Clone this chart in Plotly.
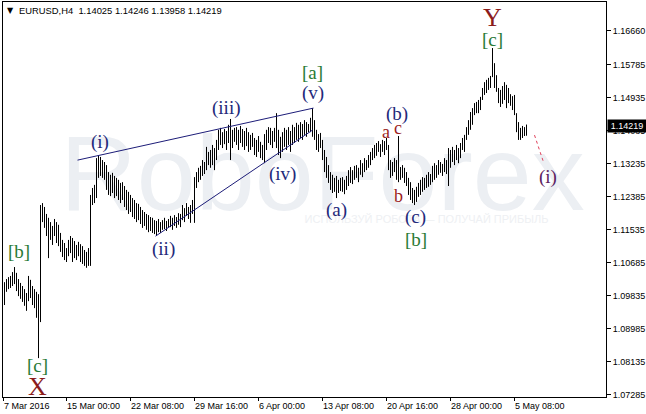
import plotly.graph_objects as go

# ---- data (EURUSD H4) ----
high = [1.1018, 1.1026, 1.1031, 1.1034, 1.1044, 1.1057, 1.1042, 1.1026, 1.1016, 1.1008,
        1.1000, 1.0990, 1.1034, 1.1024, 1.1008, 1.1000, 1.0993, 1.0987, 1.1217, 1.1222,
        1.1212, 1.1194, 1.1184, 1.1173, 1.1163, 1.1181, 1.1173, 1.1166, 1.1145, 1.1127,
        1.1119, 1.1106, 1.1127, 1.1137, 1.1132, 1.1124, 1.1114, 1.1122, 1.1116, 1.1111,
        1.1101, 1.1096, 1.1106, 1.1243, 1.1261, 1.1269, 1.1338, 1.1346, 1.1341, 1.1333,
        1.1328, 1.1320, 1.1302, 1.1295, 1.1300, 1.1292, 1.1287, 1.1282, 1.1274, 1.1276,
        1.1266, 1.1256, 1.1251, 1.1243, 1.1235, 1.1230, 1.1222, 1.1220, 1.1212, 1.1204,
        1.1199, 1.1194, 1.1191, 1.1186, 1.1184, 1.1178, 1.1176, 1.1181, 1.1173, 1.1178,
        1.1184, 1.1176, 1.1181, 1.1189, 1.1184, 1.1191, 1.1186, 1.1196, 1.1194, 1.1217,
        1.1209, 1.1222, 1.1212, 1.1217, 1.1230, 1.1289, 1.1302, 1.1313, 1.1318, 1.1333,
        1.1328, 1.1367, 1.1354, 1.1359, 1.1372, 1.1364, 1.1385, 1.1411, 1.1416, 1.1405,
        1.1413, 1.1408, 1.1424, 1.1439, 1.1411, 1.1416, 1.1418, 1.1411, 1.1421, 1.1413,
        1.1408, 1.1416, 1.1405, 1.1398, 1.1403, 1.1390, 1.1385, 1.1395, 1.1380, 1.1372,
        1.1400, 1.1411, 1.1418, 1.1416, 1.1408, 1.1416, 1.1454, 1.1411, 1.1393, 1.1405,
        1.1416, 1.1411, 1.1418, 1.1408, 1.1424, 1.1418, 1.1429, 1.1424, 1.1431, 1.1426,
        1.1436, 1.1431, 1.1426, 1.1442, 1.1467, 1.1436, 1.1411, 1.1400, 1.1403, 1.1385,
        1.1359, 1.1341, 1.1320, 1.1302, 1.1295, 1.1287, 1.1292, 1.1282, 1.1287, 1.1289,
        1.1282, 1.1292, 1.1307, 1.1315, 1.1307, 1.1318, 1.1320, 1.1313, 1.1333, 1.1325,
        1.1338, 1.1333, 1.1346, 1.1354, 1.1364, 1.1372, 1.1377, 1.1382, 1.1374, 1.1385,
        1.1382, 1.1390, 1.1372, 1.1333, 1.1328, 1.1338, 1.1333, 1.1395, 1.1315, 1.1320,
        1.1313, 1.1302, 1.1287, 1.1276, 1.1261, 1.1256, 1.1264, 1.1274, 1.1282, 1.1289,
        1.1287, 1.1295, 1.1302, 1.1297, 1.1318, 1.1325, 1.1320, 1.1333, 1.1328, 1.1323,
        1.1338, 1.1333, 1.1364, 1.1359, 1.1367, 1.1359, 1.1372, 1.1364, 1.1377, 1.1390,
        1.1398, 1.1418, 1.1436, 1.1457, 1.1467, 1.1480, 1.1483, 1.1488, 1.1496, 1.1519,
        1.1534, 1.1540, 1.1545, 1.1550, 1.1622, 1.1583, 1.1552, 1.1519, 1.1514, 1.1524,
        1.1534, 1.1527, 1.1519, 1.1503, 1.1498, 1.1501, 1.1454, 1.1431, 1.1416, 1.1421,
        1.1418, 1.14246]
low = [1.0959, 1.0993, 1.1000, 1.1003, 1.1008, 1.1013, 1.0995, 1.0982, 1.0975, 1.0967,
       1.0957, 1.0944, 1.0969, 1.0977, 1.0959, 1.0951, 1.0926, 1.0822, 1.0915, 1.1173,
       1.1158, 1.1137, 1.1080, 1.1127, 1.1114, 1.1137, 1.1119, 1.1111, 1.1096, 1.1083,
       1.1075, 1.1070, 1.1085, 1.1093, 1.1070, 1.1080, 1.1075, 1.1085, 1.1070, 1.1065,
       1.1060, 1.1055, 1.1060, 1.1060, 1.1217, 1.1222, 1.1235, 1.1287, 1.1292, 1.1287,
       1.1282, 1.1256, 1.1243, 1.1240, 1.1248, 1.1235, 1.1240, 1.1230, 1.1222, 1.1230,
       1.1212, 1.1204, 1.1194, 1.1199, 1.1186, 1.1181, 1.1173, 1.1178, 1.1168, 1.1158,
       1.1163, 1.1153, 1.1147, 1.1150, 1.1145, 1.1142, 1.1137, 1.1147, 1.1145, 1.1153,
       1.1155, 1.1150, 1.1158, 1.1160, 1.1153, 1.1163, 1.1158, 1.1166, 1.1160, 1.1178,
       1.1173, 1.1189, 1.1181, 1.1171, 1.1194, 1.1171, 1.1261, 1.1276, 1.1282, 1.1292,
       1.1297, 1.1307, 1.1320, 1.1313, 1.1320, 1.1307, 1.1333, 1.1359, 1.1372, 1.1364,
       1.1374, 1.1359, 1.1377, 1.1333, 1.1364, 1.1380, 1.1372, 1.1359, 1.1377, 1.1367,
       1.1359, 1.1369, 1.1354, 1.1359, 1.1367, 1.1346, 1.1341, 1.1354, 1.1338, 1.1333,
       1.1325, 1.1359, 1.1377, 1.1372, 1.1364, 1.1380, 1.1364, 1.1346, 1.1338, 1.1354,
       1.1367, 1.1359, 1.1372, 1.1354, 1.1372, 1.1377, 1.1385, 1.1380, 1.1390, 1.1385,
       1.1398, 1.1393, 1.1405, 1.1405, 1.1393, 1.1385, 1.1359, 1.1354, 1.1364, 1.1333,
       1.1302, 1.1287, 1.1274, 1.1256, 1.1248, 1.1251, 1.1235, 1.1248, 1.1253, 1.1251,
       1.1245, 1.1256, 1.1266, 1.1274, 1.1271, 1.1282, 1.1287, 1.1276, 1.1295, 1.1289,
       1.1302, 1.1307, 1.1313, 1.1320, 1.1333, 1.1338, 1.1344, 1.1354, 1.1341, 1.1354,
       1.1346, 1.1359, 1.1307, 1.1287, 1.1292, 1.1302, 1.1282, 1.1276, 1.1282, 1.1287,
       1.1274, 1.1266, 1.1243, 1.1230, 1.1222, 1.1217, 1.1225, 1.1238, 1.1243, 1.1251,
       1.1256, 1.1261, 1.1264, 1.1269, 1.1276, 1.1282, 1.1287, 1.1295, 1.1300, 1.1292,
       1.1302, 1.1297, 1.1266, 1.1313, 1.1328, 1.1320, 1.1333, 1.1325, 1.1338, 1.1359,
       1.1354, 1.1385, 1.1398, 1.1411, 1.1424, 1.1449, 1.1454, 1.1454, 1.1462, 1.1488,
       1.1501, 1.1506, 1.1514, 1.1519, 1.1547, 1.1519, 1.1509, 1.1480, 1.1470, 1.1478,
       1.1488, 1.1467, 1.1480, 1.1473, 1.1462, 1.1449, 1.1405, 1.1385, 1.1385, 1.1390,
       1.1395, 1.13958]

time_labels = ["7 Mar 2016", "15 Mar 00:00", "22 Mar 08:00", "29 Mar 16:00", "6 Apr 00:00",
               "13 Apr 08:00", "20 Apr 16:00", "28 Apr 00:00", "5 May 08:00"]
time_label_bars = [-0.7, 30.75, 62.75, 94.75, 126.75, 158.75, 190.75, 222.75, 254.75]

price_ticks = [1.07285, 1.08135, 1.08985, 1.09835, 1.10685, 1.11535, 1.12385,
               1.13235, 1.14085, 1.14935, 1.15785, 1.16660]

last_bar = ["1.14025", "1.14246", "1.13958", "1.14219"]
last_close = 1.14219

# wave labels: text, bar index, price, kind
wave_labels = [
    ("[b]", 7, 1.1096, "green"), ("[c]", 16.5, 1.0804, "green"), ("X", 16.5, 1.0750, "big"),
    ("(i)", 47.5, 1.1380, "navy"), ("(ii)", 79.5, 1.1104, "navy"), ("(iii)", 111, 1.1467, "navy"),
    ("(iv)", 139, 1.1297, "navy"), ("(v)", 154, 1.1506, "navy"), ("[a]", 154, 1.1558, "green"),
    ("(a)", 166, 1.1204, "navy"), ("(b)", 196, 1.1452, "navy"), ("a", 190.5, 1.1405, "red"),
    ("c", 196.5, 1.1416, "red"), ("b", 197, 1.1240, "red"), ("(c)", 205.5, 1.1186, "navy"),
    ("[b]", 205.5, 1.1129, "green"), ("Y", 244, 1.1700, "big"), ("[c]", 244, 1.1645, "green"),
    ("(i)", 271.5, 1.1289, "purple"),
]
# wedge lines: (bar0, price0, bar1, price1)
wedge_lines = [(36.5, 1.13328, 154.5, 1.14671), (75.5, 1.11366, 154, 1.14103)]
forecast_line = (265, 1.13974, 269.5, 1.13277)

# ---- figure ----
W, H = 646, 414
L, R, T, B = 3, 40, 2, 17
PW, PH = W - L - R, H - T - B
Y_TOP, Y_BOT = 1.17408, 1.07217
X_RANGE = [-0.75, 300.75]

# vertical high-low bars
bx, by = [], []
for i, (h, l) in enumerate(zip(high, low)):
    bx += [i, i, None]
    by += [l, h, None]

fig = go.Figure()
fig.add_trace(go.Scatter(x=bx, y=by, mode="lines", line=dict(color="black", width=1),
                         hoverinfo="skip", showlegend=False, connectgaps=False))

styles = {
    "green": dict(color="#2a7a34", size=19),
    "navy": dict(color="#23297a", size=19),
    "big": dict(color="#8b1c1c", size=26),
    "red": dict(color="#9c1e1e", size=18),
    "purple": dict(color="#5c2160", size=19),
}
for text, lx, ly, kind in wave_labels:
    st = styles[kind]
    fig.add_annotation(x=lx, y=ly, xref="x", yref="y", text=text, showarrow=False,
                       xanchor="center", yanchor="middle",
                       font=dict(family="Liberation Serif", size=st["size"], color=st["color"]))

for x0, y0, x1, y1 in wedge_lines:
    fig.add_shape(type="line", x0=x0, y0=y0, x1=x1, y1=y1, xref="x", yref="y",
                  line=dict(color="#1c1c78", width=1))
fx0, fy0, fx1, fy1 = forecast_line
fig.add_shape(type="line", x0=fx0, y0=fy0, x1=fx1, y1=fy1, xref="x", yref="y",
              line=dict(color="#e0405a", width=1, dash="dot"))

# watermark (below bars)
fig.add_shape(type="rect", xref="x", yref="y", x0=108, x1=210, y0=1.1305, y1=1.1345,
              layer="below", line=dict(width=0), fillcolor="rgba(0,0,0,0)",
              label=dict(text="RoboForex", textposition="middle center",
                         font=dict(family="Liberation Sans", size=106, color="#eceff3")))
fig.add_shape(type="rect", xref="x", yref="y", x0=180, x1=242, y0=1.1174, y1=1.1194,
              layer="below", line=dict(width=0), fillcolor="rgba(0,0,0,0)",
              label=dict(text="ИСПОЛЬЗУЙ РОБОТА — ПОЛУЧАЙ ПРИБЫЛЬ", textposition="middle center",
                         font=dict(family="Liberation Sans", size=11, color="#eef0f3")))

def px_x(px):
    return (px - L) / PW

def px_y(py):
    return 1 - (py - T) / PH

ui_font = "Liberation Sans"
fig.add_annotation(xref="paper", yref="paper", x=px_x(5), y=px_y(10), xanchor="left",
                   yanchor="middle", showarrow=False, text="▼",
                   font=dict(family="DejaVu Sans", size=8, color="black"))
fig.add_annotation(xref="paper", yref="paper", x=px_x(17), y=px_y(10), xanchor="left",
                   yanchor="middle", showarrow=False,
                   text="EURUSD,H4\u00a0\u00a0" + "\u00a0".join(last_bar),
                   font=dict(family=ui_font, size=9.4, color="black"))
fig.add_annotation(xref="paper", yref="y", x=1, y=last_close, xanchor="left", yanchor="middle",
                   showarrow=False, text=f"{last_close:.5f}", bgcolor="black", borderpad=0,
                   width=38, height=12, align="center", xshift=1,
                   font=dict(family=ui_font, size=9, color="white"))

fig.update_layout(
    width=W, height=H, margin=dict(l=L, r=R, t=T, b=B, pad=0, autoexpand=False),
    paper_bgcolor="white", plot_bgcolor="white", showlegend=False, hovermode=False,
    xaxis=dict(range=X_RANGE, showgrid=False, zeroline=False, showline=True, automargin=False,
               linecolor="black", linewidth=1, mirror=True, ticks="outside", ticklen=3,
               tickcolor="black", tickvals=time_label_bars, ticktext=time_labels, tickangle=0,
               ticklabelposition="outside right",
               tickfont=dict(family=ui_font, size=9, color="black")),
    yaxis=dict(range=[Y_BOT, Y_TOP], side="right", showgrid=False, zeroline=False,
               showline=True, linecolor="black", linewidth=1, mirror=True, ticks="outside",
               ticklen=4, tickcolor="black", tickvals=price_ticks, automargin=False,
               ticktext=[f"{v:.5f}" for v in price_ticks],
               tickfont=dict(family=ui_font, size=9, color="black")),
)
fig.write_html("out.html", config={"displayModeBar": False},
               post_script="document.body.style.margin='0';document.body.style.overflow='hidden';")
